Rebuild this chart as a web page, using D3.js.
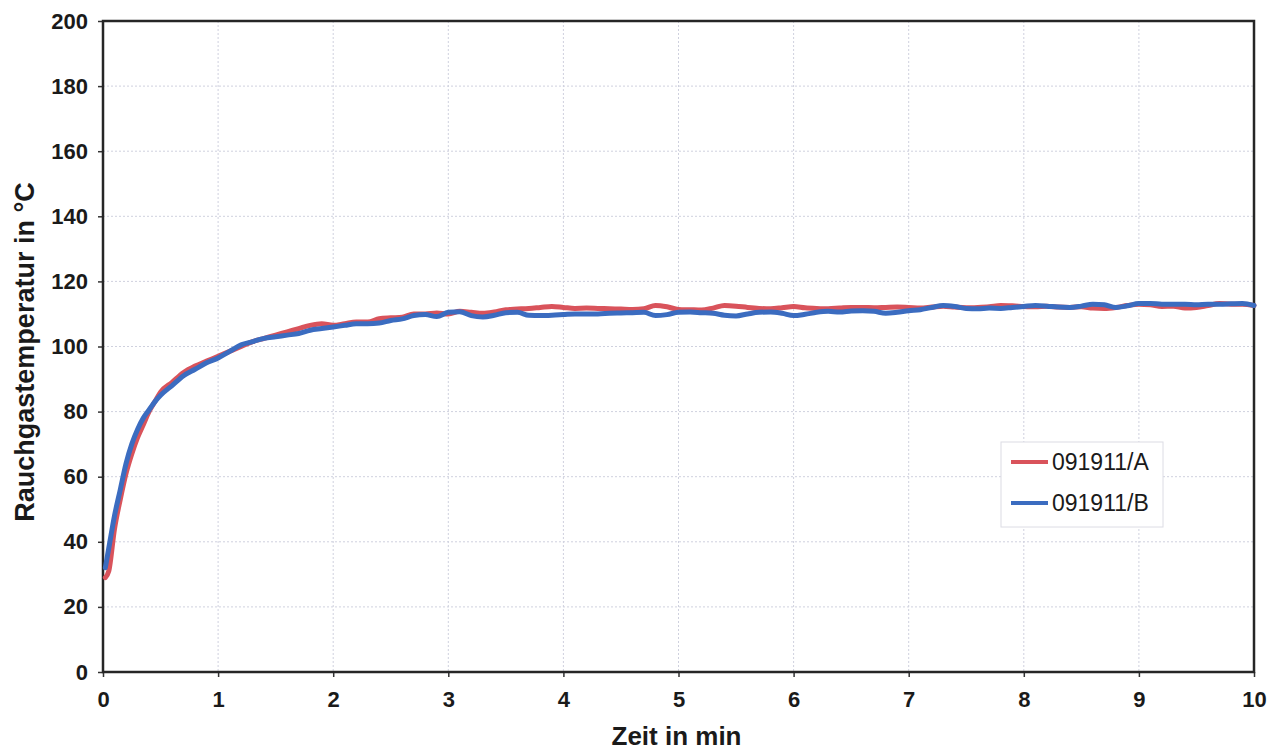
<!DOCTYPE html>
<html>
<head>
<meta charset="utf-8">
<script src="https://cdn.jsdelivr.net/npm/d3@7"></script>
<style>
	body { margin: 0; background: #fff; }
	text { font-family: 'Liberation Sans', Arial, sans-serif; }
</style>
</head>
<body>
<div id="svg-container"></div>
<script>
// data
var timeMin = [0.02, 0.05, 0.1, 0.15, 0.2, 0.25, 0.3, 0.35, 0.4, 0.45, 0.5,
	0.6, 0.7, 0.8, 0.9, 1.0, 1.1, 1.2, 1.3, 1.4, 1.5, 1.6, 1.7, 1.8, 1.9, 2.0,
	2.1, 2.2, 2.3, 2.4, 2.5, 2.6, 2.7, 2.8, 2.9, 3.0, 3.1, 3.2, 3.3, 3.4, 3.5,
	3.6, 3.7, 3.8, 3.9, 4.0, 4.1, 4.2, 4.3, 4.4, 4.5, 4.6, 4.7, 4.8, 4.9, 5.0,
	5.1, 5.2, 5.3, 5.4, 5.5, 5.6, 5.7, 5.8, 5.9, 6.0, 6.1, 6.2, 6.3, 6.4, 6.5,
	6.6, 6.7, 6.8, 6.9, 7.0, 7.1, 7.2, 7.3, 7.4, 7.5, 7.6, 7.7, 7.8, 7.9, 8.0,
	8.1, 8.2, 8.3, 8.4, 8.5, 8.6, 8.7, 8.8, 8.9, 9.0, 9.1, 9.2, 9.3, 9.4, 9.5,
	9.6, 9.7, 9.8, 9.9, 10.0];

var tempA = [29, 31, 44, 53, 61, 67, 72, 76, 80, 83, 86,
	89, 92, 94, 95.5, 97, 98.5, 100, 101.5, 102.5, 103.5, 104.5, 105.5, 106.5, 107, 106.5,
	107, 107.5, 107.5, 108.5, 108.8, 109, 110, 110, 110.3, 110, 110.8, 110.5, 110.2, 110.6, 111.3,
	111.5, 111.7, 112, 112.3, 112, 111.7, 111.8, 111.7, 111.6, 111.5, 111.4, 111.6, 112.6, 112.2, 111.4,
	111.3, 111.2, 111.8, 112.6, 112.4, 112, 111.7, 111.6, 111.9, 112.3, 111.9, 111.7, 111.6, 111.8, 112,
	112, 111.9, 112, 112.1, 112, 111.8, 112.1, 112.4, 112.1, 111.9, 112, 112.2, 112.6, 112.5, 112.3,
	112.2, 112.4, 112.1, 112, 112.2, 111.8, 111.7, 112, 112.6, 113, 112.8, 112.3, 112.4, 111.8, 112,
	112.6, 113.2, 113, 113, 112.6];

var tempB = [32, 38, 48, 56, 64, 70, 74.5, 78, 80.5, 83, 85,
	88, 91, 93, 95, 96.5, 98.5, 100.5, 101.5, 102.5, 103, 103.5, 104, 105, 105.5, 106,
	106.5, 107, 107, 107.2, 108, 108.5, 109.5, 109.8, 109.2, 110.5, 110.7, 109.5, 109.1, 109.6, 110.4,
	110.5, 109.6, 109.5, 109.6, 109.8, 110, 110, 110, 110.2, 110.3, 110.4, 110.5, 109.5, 109.8, 110.5,
	110.6, 110.4, 110.2, 109.6, 109.4, 110, 110.5, 110.6, 110.2, 109.5, 109.9, 110.5, 110.8, 110.6, 110.9,
	111, 110.8, 110.2, 110.5, 111, 111.3, 112, 112.6, 112.3, 111.7, 111.6, 111.8, 111.7, 112, 112.3,
	112.6, 112.4, 112.1, 112, 112.4, 113, 112.8, 112, 112.5, 113.2, 113.2, 113, 113, 113, 112.8,
	113, 113, 113.1, 113.2, 112.6];

var seriesNames = ['091911/A', '091911/B'];
var seriesColors = ['#d9535b', '#3b6cc0'];
var xTicks = [0, 1, 2, 3, 4, 5, 6, 7, 8, 9, 10];
var yTicks = [0, 20, 40, 60, 80, 100, 120, 140, 160, 180, 200];

var CONFIGSVG = { width: 1282, height: 752 };
var plot = { left: 103, right: 1254, top: 21, bottom: 672 };

var svg = d3
	.select('#svg-container')
	.append('svg')
	.attr('width', CONFIGSVG.width)
	.attr('height', CONFIGSVG.height);

var x = d3.scaleLinear().domain([0, 10]).range([plot.left, plot.right]);
var y = d3.scaleLinear().domain([0, 200]).range([plot.bottom, plot.top]);

// grid
var grid = svg.append('g').attr('class', 'grid');
grid
	.selectAll('line.h')
	.data(yTicks.slice(1, -1))
	.enter()
	.append('line')
	.attr('x1', plot.left)
	.attr('x2', plot.right)
	.attr('y1', (d) => y(d))
	.attr('y2', (d) => y(d))
	.attr('stroke', '#cfd1de')
	.attr('stroke-width', 1)
	.attr('stroke-dasharray', '2,2');
grid
	.selectAll('line.v')
	.data(xTicks.slice(1, -1))
	.enter()
	.append('line')
	.attr('x1', (d) => x(d))
	.attr('x2', (d) => x(d))
	.attr('y1', plot.top)
	.attr('y2', plot.bottom)
	.attr('stroke', '#cfd1de')
	.attr('stroke-width', 1)
	.attr('stroke-dasharray', '2,2');

// axes
var xAxis = svg
	.append('g')
	.attr('transform', 'translate(0,' + plot.bottom + ')')
	.call(d3.axisBottom(x).tickValues(xTicks).tickSize(5).tickPadding(14));
var yAxis = svg
	.append('g')
	.attr('transform', 'translate(' + plot.left + ',0)')
	.call(d3.axisLeft(y).tickValues(yTicks).tickSize(5).tickPadding(10));

[xAxis, yAxis].forEach((ax) => {
	ax.select('.domain').remove();
	ax.selectAll('.tick line').attr('stroke', '#333').attr('stroke-width', 1.5);
	ax
		.selectAll('.tick text')
		.attr('fill', '#1a1a1a')
		.style('font-family', "'Liberation Sans', Arial, sans-serif")
		.style('font-size', '22px')
		.style('font-weight', 'bold');
});

// frame
svg
	.append('rect')
	.attr('x', plot.left)
	.attr('y', plot.top)
	.attr('width', plot.right - plot.left)
	.attr('height', plot.bottom - plot.top)
	.attr('fill', 'none')
	.attr('stroke', '#262626')
	.attr('stroke-width', 2.5);

// curves
var line = d3
	.line()
	.x((d) => x(d.t))
	.y((d) => y(d.v))
	.curve(d3.curveMonotoneX);

[tempA, tempB].forEach((vals, i) => {
	var pts = timeMin.map((t, k) => ({ t: t, v: vals[k] }));
	svg
		.append('path')
		.datum(pts)
		.attr('d', line)
		.attr('fill', 'none')
		.attr('stroke', seriesColors[i])
		.attr('stroke-width', 5)
		.attr('stroke-linejoin', 'round')
		.attr('stroke-linecap', 'round');
});

// legend
var legend = svg.append('g').attr('transform', 'translate(1001,442)');
legend
	.append('rect')
	.attr('width', 162)
	.attr('height', 85)
	.attr('fill', '#fff')
	.attr('stroke', '#dcdce4')
	.attr('stroke-width', 1);
seriesNames.forEach((name, i) => {
	var g = legend.append('g').attr('transform', 'translate(0,' + (20 + i * 41) + ')');
	g
		.append('line')
		.attr('x1', 10)
		.attr('x2', 47)
		.attr('stroke', seriesColors[i])
		.attr('stroke-width', 4);
	g
		.append('text')
		.attr('x', 51)
		.attr('dominant-baseline', 'central')
		.attr('fill', '#1a1a1a')
		.style('font-size', '23px')
		.text(name);
});

// axis titles
svg
	.append('text')
	.attr('x', x(5) - 2)
	.attr('y', 745)
	.attr('text-anchor', 'middle')
	.attr('fill', '#1a1a1a')
	.style('font-size', '26px')
	.style('font-weight', 'bold')
	.text('Zeit in min');

svg
	.append('text')
	.attr('transform', 'translate(34,352) rotate(-90)')
	.attr('text-anchor', 'middle')
	.attr('fill', '#1a1a1a')
	.style('font-size', '27px')
	.style('font-weight', 'bold')
	.text('Rauchgastemperatur in °C');
</script>
</body>
</html>
